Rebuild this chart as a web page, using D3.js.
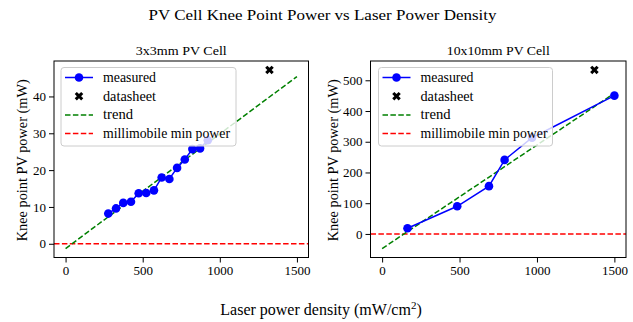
<!DOCTYPE html>
<html>
<head>
<meta charset="utf-8">
<script src="https://cdn.jsdelivr.net/npm/d3@7"></script>
<style>
  body { margin: 0; background: #fff; }
  svg text { font-family: 'Liberation Serif', 'DejaVu Serif', serif; fill: #000; }
  .tick text { font-size: 13px; }
  .tick line, .domain { stroke: #000; }
</style>
</head>
<body>
<svg id="chart" width="633" height="322"></svg>
<script>
// 3x3mm cell
const smallX = [277, 327, 374, 424, 474, 523, 573, 623, 673, 723, 773, 822, 872, 922];
const smallY = [8.2, 9.6, 11.1, 11.4, 13.7, 13.8, 14.5, 18.0, 17.6, 20.6, 22.9, 25.7, 25.9, 28.1];
const smallDatasheet = [1322, 47.2];
const smallTrendX = [0, 1500];
const smallTrendY = [-1.3, 45.4];
const smallYTicks = [0, 10, 20, 30, 40];

// 10x10mm cell
const largeX = [164, 485, 690, 791, 968, 1500];
const largeY = [18.6, 90, 155.5, 241, 313, 450];
const largeDatasheet = [1371, 533.7];
const largeTrendX = [0, 1500];
const largeTrendY = [-47.6, 457.8];
const largeYTicks = [0, 100, 200, 300, 400, 500];

const xTicks = [0, 500, 1000, 1500];
const legendLabels = ['measured', 'datasheet', 'trend', 'millimobile min power'];
const legendWidths = [53, 53, 30, 127];

const svg = d3.select('#chart');

function pad(lo, hi) {
    const m = (hi - lo) * 0.05;
    return [lo - m, hi + m];
}

function drawPanel(opts) {
    const left = opts.left, right = opts.right, top = 61, bottom = 257.5;

    const allX = opts.xs.concat(opts.trendX, [opts.sheet[0]]);
    const allY = opts.ys.concat(opts.trendY, [opts.sheet[1]]);

    const x = d3.scaleLinear().domain(pad(d3.min(allX), d3.max(allX))).range([left, right]);
    const y = d3.scaleLinear().domain(pad(d3.min(allY), d3.max(allY))).range([bottom, top]);

    const g = svg.append('g');

    // zero line
    g.append('line')
        .attr('x1', left).attr('x2', right)
        .attr('y1', y(0)).attr('y2', y(0))
        .attr('stroke', '#ff0000').attr('stroke-width', 1.5)
        .attr('stroke-dasharray', '5.5,2.4');

    // trend
    g.append('line')
        .attr('x1', x(opts.trendX[0])).attr('x2', x(opts.trendX[1]))
        .attr('y1', y(opts.trendY[0])).attr('y2', y(opts.trendY[1]))
        .attr('stroke', '#008000').attr('stroke-width', 1.5)
        .attr('stroke-dasharray', '5.5,2.4');

    // measured
    const pts = opts.xs.map((v, i) => [v, opts.ys[i]]);
    g.append('path')
        .datum(pts)
        .attr('fill', 'none')
        .attr('stroke', '#0000ff')
        .attr('stroke-width', 1.5)
        .attr('d', d3.line().x(d => x(d[0])).y(d => y(d[1])));

    g.selectAll('.pt')
        .data(pts)
        .enter().append('circle')
        .attr('cx', d => x(d[0]))
        .attr('cy', d => y(d[1]))
        .attr('r', 4.3)
        .attr('fill', '#0000ff');

    // datasheet marker
    const xMark = d3.symbol().type(d3.symbolCross).size(46);
    g.append('path')
        .attr('d', xMark())
        .attr('transform', 'translate(' + x(opts.sheet[0]) + ',' + y(opts.sheet[1]) + ') rotate(45)')
        .attr('fill', '#000');

    // axes
    g.append('g')
        .attr('transform', 'translate(0,' + bottom + ')')
        .call(d3.axisBottom(x).tickValues(xTicks).tickFormat(d3.format('d')).tickSize(5).tickPadding(3))
        .call(a => a.attr('font-family', null).attr('font-size', null))
        .call(a => a.select('.domain').remove());

    g.append('g')
        .attr('transform', 'translate(' + left + ',0)')
        .call(d3.axisLeft(y).tickValues(opts.yTicks).tickFormat(d3.format('d')).tickSize(5).tickPadding(3))
        .call(a => a.attr('font-family', null).attr('font-size', null))
        .call(a => a.select('.domain').remove());

    g.append('rect')
        .attr('x', left).attr('y', top)
        .attr('width', right - left).attr('height', bottom - top)
        .attr('fill', 'none').attr('stroke', '#000').attr('stroke-width', 1);

    // subplot title
    g.append('text')
        .attr('x', (left + right) / 2).attr('y', 55)
        .attr('text-anchor', 'middle')
        .attr('font-size', 13.5)
        .attr('textLength', opts.titleW)
        .attr('lengthAdjust', 'spacingAndGlyphs')
        .text(opts.title);

    // y label
    g.append('text')
        .attr('transform', 'translate(' + opts.ylabX + ',' + ((top + bottom) / 2 + 1) + ') rotate(-90)')
        .attr('text-anchor', 'middle')
        .attr('font-size', 14.5)
        .attr('textLength', 162)
        .attr('lengthAdjust', 'spacingAndGlyphs')
        .text('Knee point PV power (mW)');

    // legend
    const lx = left + opts.legendOff, ly = 67.5;
    const lg = g.append('g').attr('transform', 'translate(' + lx + ',' + ly + ')');
    lg.append('rect')
        .attr('width', opts.legendW).attr('height', 78.5)
        .attr('rx', 3)
        .attr('fill', '#fff').attr('fill-opacity', 0.8)
        .attr('stroke', '#cccccc').attr('stroke-width', 1);

    legendLabels.forEach((lab, i) => {
        const ry = 10 + i * 18.7;
        const row = lg.append('g').attr('transform', 'translate(0,' + ry + ')');
        if (i === 0) {
            row.append('line').attr('x1', 4).attr('x2', 32).attr('stroke', '#0000ff').attr('stroke-width', 1.5);
            row.append('circle').attr('cx', 18).attr('r', 4.3).attr('fill', '#0000ff');
        } else if (i === 1) {
            row.append('path').attr('d', xMark()).attr('transform', 'translate(18,0) rotate(45)').attr('fill', '#000');
        } else {
            row.append('line').attr('x1', 4).attr('x2', 32)
                .attr('stroke', i === 2 ? '#008000' : '#ff0000')
                .attr('stroke-width', 1.5).attr('stroke-dasharray', '5.5,2.4');
        }
        row.append('text')
            .attr('x', 42).attr('y', 4.5)
            .attr('font-size', 14)
            .attr('textLength', legendWidths[i])
            .attr('lengthAdjust', 'spacingAndGlyphs')
            .text(lab);
    });
}

drawPanel({
    left: 54, right: 308.5,
    xs: smallX, ys: smallY, sheet: smallDatasheet,
    trendX: smallTrendX, trendY: smallTrendY,
    yTicks: smallYTicks,
    title: '3x3mm PV Cell', titleW: 91,
    ylabX: 27, legendOff: 7, legendW: 175
});

drawPanel({
    left: 370.5, right: 626,
    xs: largeX, ys: largeY, sheet: largeDatasheet,
    trendX: largeTrendX, trendY: largeTrendY,
    yTicks: largeYTicks,
    title: '10x10mm PV Cell', titleW: 103,
    ylabX: 338, legendOff: 8, legendW: 174
});

svg.append('text')
    .attr('x', 322.5).attr('y', 20)
    .attr('text-anchor', 'middle')
    .attr('font-size', 15)
    .attr('textLength', 348)
    .attr('lengthAdjust', 'spacingAndGlyphs')
    .text('PV Cell Knee Point Power vs Laser Power Density');

const xl = svg.append('text')
    .attr('x', 321).attr('y', 315)
    .attr('text-anchor', 'middle')
    .attr('font-size', 16);
xl.append('tspan').text('Laser power density (mW/cm');
xl.append('tspan').attr('font-size', 11).attr('dy', -6).text('2');
xl.append('tspan').attr('dy', 6).text(')');
</script>
</body>
</html>
